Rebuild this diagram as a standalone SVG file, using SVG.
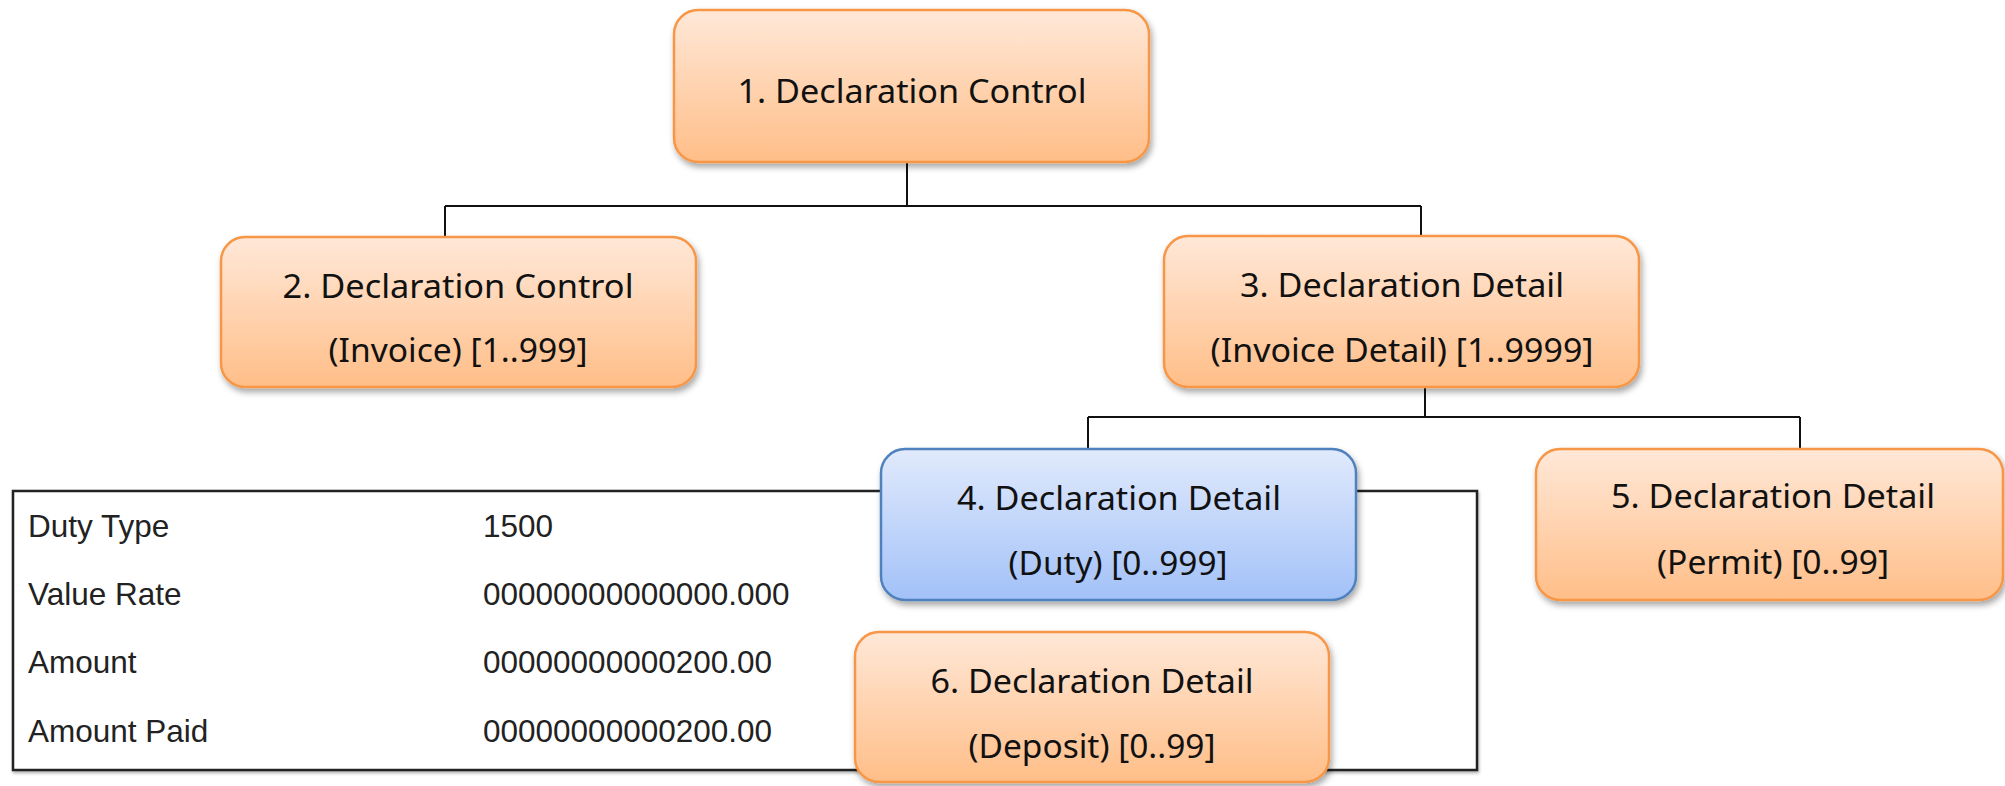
<svg xmlns="http://www.w3.org/2000/svg" width="2005" height="786" viewBox="0 0 2005 786">
<style>
.box-o{fill:url(#gOrange);stroke:#F79646;stroke-width:2.5;filter:url(#shadow)}
.box-b{fill:url(#gBlue);stroke:#4F81BD;stroke-width:2.5;filter:url(#shadow)}
.lbl{font-family:"Noto Sans","Open Sans","DejaVu Sans",sans-serif;font-size:32px;fill:#111;text-anchor:middle}
.tbl{font-family:"Liberation Sans",Arial,sans-serif;font-size:31.5px;fill:#222}
.conn{stroke:#111;stroke-width:2;fill:none}
</style>
<defs>
<linearGradient id="gOrange" x1="0" y1="0" x2="0" y2="1">
<stop offset="0" stop-color="#FFE8D8"/>
<stop offset="1" stop-color="#FFBE88"/>
</linearGradient>
<linearGradient id="gBlue" x1="0" y1="0" x2="0" y2="1">
<stop offset="0" stop-color="#E1EAFC"/>
<stop offset="1" stop-color="#A2C1F8"/>
</linearGradient>
<filter id="shadow" x="-10%" y="-10%" width="120%" height="130%">
<feDropShadow dx="2" dy="4" stdDeviation="3" flood-color="#000" flood-opacity="0.35"/>
</filter>
<filter id="tshadow" x="-5%" y="-5%" width="110%" height="115%">
<feDropShadow dx="1" dy="2" stdDeviation="1.5" flood-color="#000" flood-opacity="0.3"/>
</filter>
</defs>
<rect width="2005" height="786" fill="#fff"/>

<g id="connectors">
<path class="conn" d="M907 162 V206 M445 206 H1421 M445 206 V237 M1421 206 V236"/>
<path class="conn" d="M1425 387 V417 M1088 417 H1800 M1088 417 V449 M1800 417 V449"/>
<path class="conn" d="M1088 600 V632"/>
</g>

<g id="duty-table">
<rect x="13" y="491" width="1464" height="279" fill="#fff" stroke="#222" stroke-width="2.5" filter="url(#tshadow)"/>
<text class="tbl" x="28" y="537">Duty Type</text>
<text class="tbl" x="483" y="537">1500</text>
<text class="tbl" x="28" y="605">Value Rate</text>
<text class="tbl" x="483" y="605">00000000000000.000</text>
<text class="tbl" x="28" y="673">Amount</text>
<text class="tbl" x="483" y="673">00000000000200.00</text>
<text class="tbl" x="28" y="742">Amount Paid</text>
<text class="tbl" x="483" y="742">00000000000200.00</text>
</g>

<g id="node1">
<rect class="box-o" x="674" y="10" width="475" height="152" rx="24"/>
<text class="lbl" x="912" y="103" textLength="349" lengthAdjust="spacingAndGlyphs">1. Declaration Control</text>
</g>

<g id="node2">
<rect class="box-o" x="221" y="237" width="475" height="150" rx="24"/>
<text class="lbl" x="458" y="298" textLength="351" lengthAdjust="spacingAndGlyphs">2. Declaration Control</text>
<text class="lbl" x="458" y="362" textLength="259" lengthAdjust="spacingAndGlyphs">(Invoice) [1..999]</text>
</g>

<g id="node3">
<rect class="box-o" x="1164" y="236" width="475" height="151" rx="24"/>
<text class="lbl" x="1402" y="297" textLength="324" lengthAdjust="spacingAndGlyphs">3. Declaration Detail</text>
<text class="lbl" x="1402" y="362" textLength="383" lengthAdjust="spacingAndGlyphs">(Invoice Detail) [1..9999]</text>
</g>

<g id="node5">
<rect class="box-o" x="1536" y="449" width="467" height="151" rx="24"/>
<text class="lbl" x="1773" y="508" textLength="324" lengthAdjust="spacingAndGlyphs">5. Declaration Detail</text>
<text class="lbl" x="1773" y="574" textLength="232" lengthAdjust="spacingAndGlyphs">(Permit) [0..99]</text>
</g>

<g id="node4">
<rect class="box-b" x="881" y="449" width="475" height="151" rx="24"/>
<text class="lbl" x="1119" y="510" textLength="324" lengthAdjust="spacingAndGlyphs">4. Declaration Detail</text>
<text class="lbl" x="1118" y="575" textLength="219" lengthAdjust="spacingAndGlyphs">(Duty) [0..999]</text>
</g>

<g id="node6">
<rect class="box-o" x="855" y="632" width="474" height="150" rx="24"/>
<text class="lbl" x="1092" y="693" textLength="323" lengthAdjust="spacingAndGlyphs">6. Declaration Detail</text>
<text class="lbl" x="1092" y="758" textLength="247" lengthAdjust="spacingAndGlyphs">(Deposit) [0..99]</text>
</g>
</svg>
